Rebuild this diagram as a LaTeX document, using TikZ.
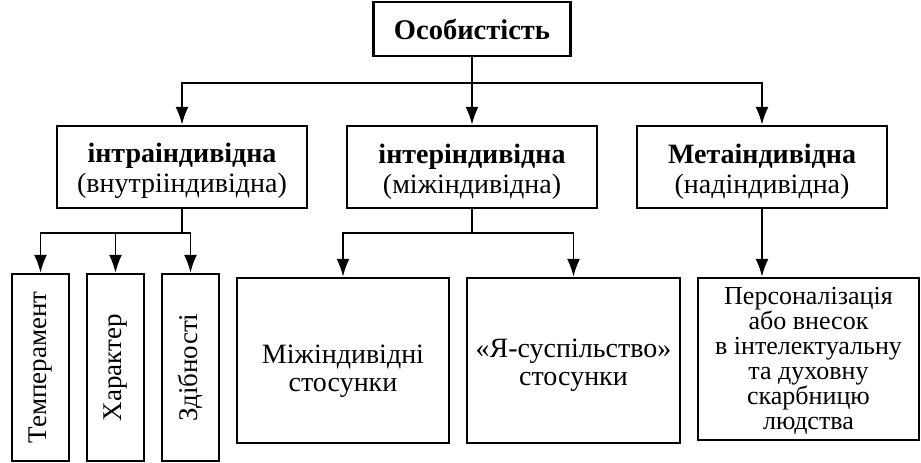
\documentclass[tikz,border=0pt]{standalone}
\usepackage{fontspec}
\setmainfont{Liberation Serif}
\usetikzlibrary{arrows.meta}
\newcommand\lowerby[1]{\rule{0pt}{#1}}
\begin{document}
\begin{tikzpicture}[x=1pt,y=1pt,
  box/.style={draw, line width=2.4pt, inner sep=0pt, align=center},
  conn/.style={line width=1.9pt},
  arr/.style={conn, -{Latex[length=18pt,width=13pt]}},
  midtxt/.style={font=\fontsize{28}{30}\selectfont},
  rottxt/.style={font=\fontsize{27}{28}\selectfont},
  lowtxt/.style={font=\fontsize{28}{28}\selectfont},
  rtxt/.style={font=\fontsize{26}{25}\selectfont}]
\useasboundingbox (0,0) rectangle (921,-463);
% top
\node[box, minimum width=197, minimum height=54, font=\bfseries\fontsize{28.5}{30}\selectfont] (top) at (472,-29) {Особистість};
% middle level
\node[box, midtxt, minimum width=250, minimum height=82] (A) at (182,-167) {\lowerby{28pt}\textbf{інтраіндивідна}\\(внутрііндивідна)};
\node[box, midtxt, minimum width=250, minimum height=82] (B) at (472,-167) {\lowerby{28pt}\textbf{інтеріндивідна}\\(міжіндивідна)};
\node[box, midtxt, minimum width=250, minimum height=82] (C) at (762,-167) {\lowerby{28pt}\textbf{Метаіндивідна}\\(надіндивідна)};
% lower level
\node[box, rottxt, minimum width=57, minimum height=187] (t1) at (40.5,-367.5) {\rotatebox{90}{Темперамент}};
\node[box, rottxt, minimum width=57, minimum height=187] (t2) at (115.5,-367.5) {\rotatebox{90}{Характер}};
\node[box, rottxt, minimum width=57, minimum height=187] (t3) at (190.5,-367.5) {\rotatebox{90}{Здібності}};
\node[box, lowtxt, minimum width=212, minimum height=165] (m1) at (343,-360.5) {\lowerby{40pt}Міжіндивідні\\стосунки};
\node[box, lowtxt, minimum width=213, minimum height=165] (m2) at (573.5,-360.5) {\lowerby{28pt}«Я-суспільство»\\стосунки};
\node[box, rtxt, minimum width=221, minimum height=162] (m3) at (808.5,-359) {\lowerby{22pt}Персоналізація\\або внесок\\в інтелектуальну\\та духовну\\скарбницю\\людства};
% connectors
\coordinate (h0) at (0,-83);
\coordinate (h1) at (0,-233);
\coordinate (j0) at (top.south |- h0);
\draw[conn] (top.south) -- (j0);
\draw[arr] (j0) -| (A.north);
\draw[arr] (j0) -- (B.north);
\draw[arr] (j0) -| (C.north);
\coordinate (j1) at (A.south |- h1);
\draw[conn] (A.south) -- (j1);
\draw[arr] (j1) -| (t1.north);
\draw[arr] (j1) -| (t2.north);
\draw[arr] (j1) -| (t3.north);
\coordinate (j2) at (B.south |- h1);
\draw[conn] (B.south) -- (j2);
\draw[arr] (j2) -| (m1.north);
\draw[arr] (j2) -| (m2.north);
\draw[arr] (C.south) -- (C.south |- m3.north);
\end{tikzpicture}
\end{document}
